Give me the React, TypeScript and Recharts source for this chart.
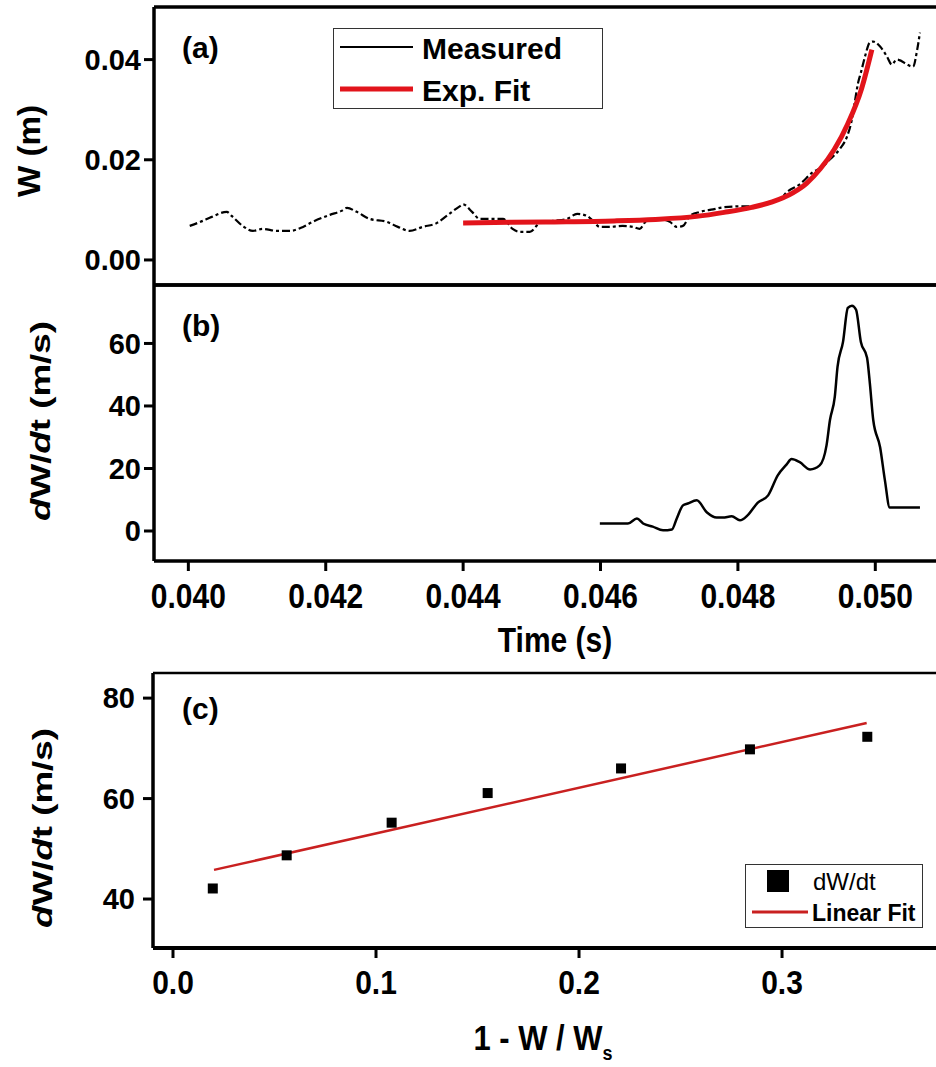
import React from "react";
import { ComposedChart, Line, Scatter, XAxis, YAxis, Legend } from "recharts";

const SANS = '"Liberation Sans", Arial, Helvetica, sans-serif';
const RED_A = "#e2141b";
const RED_C = "#c92020";

// ---- panel (a): width W(t), measured and exponential fit ----
const measuredTime = [
  0.04002, 0.04021, 0.04034, 0.04056, 0.04063, 0.04079, 0.04094, 0.04108, 0.04129, 0.04148,
  0.04167, 0.04181, 0.04206, 0.04223, 0.04231, 0.04245, 0.04264, 0.04289, 0.04305, 0.04322,
  0.04341, 0.04362, 0.04376, 0.04395, 0.044, 0.04413, 0.04424, 0.04443, 0.04458, 0.04472,
  0.04482, 0.04497, 0.04512, 0.04531, 0.04551, 0.04566, 0.0458, 0.04589, 0.04599, 0.04614,
  0.04632, 0.04647, 0.04657, 0.04667, 0.04686, 0.04701, 0.04711, 0.0472, 0.0473, 0.04745,
  0.04764, 0.04778, 0.04803, 0.04822, 0.04846, 0.04861, 0.04871, 0.0489, 0.04909, 0.04924,
  0.04934, 0.04948, 0.04959, 0.04966, 0.0497, 0.04975, 0.04979, 0.04985, 0.04992, 0.04997,
  0.05007, 0.05017, 0.05024, 0.05031, 0.05055, 0.05061, 0.05065,
];
const measuredW = [
  0.0068, 0.0078, 0.0086, 0.0096, 0.0088, 0.0068, 0.0058, 0.0062, 0.0058, 0.0058,
  0.0066, 0.0076, 0.009, 0.0098, 0.0104, 0.0096, 0.0082, 0.0076, 0.0066, 0.0058,
  0.0066, 0.0074, 0.0088, 0.0107, 0.0111, 0.0096, 0.0082, 0.0082, 0.0082, 0.0062,
  0.0056, 0.0056, 0.0074, 0.0078, 0.0082, 0.0092, 0.0088, 0.0078, 0.0066, 0.0066,
  0.0068, 0.0066, 0.0062, 0.0078, 0.0082, 0.0076, 0.0066, 0.0068, 0.0088, 0.0096,
  0.0101, 0.0105, 0.0107, 0.0107, 0.0115, 0.0121, 0.0135, 0.0151, 0.0175, 0.0187,
  0.0201, 0.0221, 0.0247, 0.0281, 0.0314, 0.0354, 0.0374, 0.0406, 0.0434, 0.0436,
  0.0426, 0.0406, 0.039, 0.04, 0.0386, 0.042, 0.0454,
];
const fitTime = [0.044, 0.0452, 0.0462, 0.0468, 0.0474, 0.0478, 0.0482, 0.0485, 0.0488, 0.049, 0.0492, 0.0494, 0.0496, 0.0498, 0.04995];
const fitW = [0.0074, 0.0076, 0.0078, 0.0081, 0.0087, 0.0095, 0.0105, 0.0116, 0.0134, 0.0153, 0.0182, 0.022, 0.0272, 0.0342, 0.042];

// ---- panel (b): dW/dt ----
const rateTime = [
  0.04599, 0.0464, 0.04653, 0.04662, 0.04676, 0.04691, 0.04704, 0.04711, 0.0472, 0.04727,
  0.0474, 0.04755, 0.04769, 0.04778, 0.04791, 0.04803, 0.04814, 0.04829, 0.04844, 0.04858,
  0.04871, 0.04878, 0.0489, 0.04905, 0.04919, 0.04929, 0.04934, 0.04941, 0.04945, 0.04953,
  0.0496, 0.04966, 0.04972, 0.04979, 0.04988, 0.04992, 0.04997, 0.05007, 0.05014, 0.05021,
  0.05065,
];
const rateValue = [
  2.4, 2.4, 4.0, 2.4, 1.4, 0.2, 0.5, 4.0, 8.2, 8.8,
  9.8, 5.9, 4.3, 4.3, 4.7, 3.4, 5.0, 9.1, 11.4, 17.8,
  21.3, 23.0, 22.0, 19.7, 21.0, 27.4, 35.5, 42.9, 52.5, 60.5,
  71.4, 72.1, 70.8, 60.5, 55.4, 47.4, 35.5, 26.8, 16.2, 7.5,
  7.5,
];

// ---- panel (c): dW/dt vs 1 - W/Ws ----
const ratioX = [0.0196, 0.056, 0.1077, 0.155, 0.2207, 0.2842, 0.342];
const ratioRate = [42.1, 48.7, 55.2, 61.1, 66.0, 69.8, 72.3];
const linearFitX = [0.0202, 0.3417];
const linearFitY = [45.8, 75.05];

// axes
const timeDomain = [0.0395, 0.051];
const timeTicks = [0.04, 0.042, 0.044, 0.046, 0.048, 0.05];
const timeMinorTicks = [0.041, 0.043, 0.045, 0.047, 0.049];
const wDomain = [-0.005, 0.0505];
const wTicks = [0, 0.02, 0.04];
const wMinorTicks = [0.01, 0.03, 0.05];
const rateDomain = [-9.6, 78.7];
const rateTicks = [0, 20, 40, 60];
const rateMinorTicks = [10, 30, 50, 70];
const ratioDomain = [-0.00985, 0.3852];
const ratioTicks = [0, 0.1, 0.2, 0.3];
const ratioMinorTicks = [0.05, 0.15, 0.25, 0.35];
const cRateDomain = [30.25, 85];
const cRateTicks = [40, 60, 80];
const cRateMinorTicks = [50, 70];

const majorLine = { stroke: "#000", strokeWidth: 3 };
const minorLine = { stroke: "#000", strokeWidth: 2 };
const frame = { stroke: "#000", strokeWidth: 3.5 };

const yTickStyle = { fill: "#000", fontSize: 29, fontWeight: "bold", fontFamily: SANS };

// bottom tick label, slightly stretched vertically like the scanned figure
function StretchTick(props: any) {
  const { x, y, payload, digits, sy } = props;
  return (
    <g transform={`translate(${x},${y}) scale(1,${sy})`}>
      <text x={0} y={0} dy="0.71em" textAnchor="middle" fill="#000" fontFamily={SANS}
        fontWeight="bold" fontSize={30}>
        {Number(payload.value).toFixed(digits)}
      </text>
    </g>
  );
}

function vTitle(x: number, y: number, length: number, body: React.ReactNode, size = 28) {
  return () => (
    <text
      x={x}
      y={y}
      transform={`rotate(-90 ${x} ${y})`}
      textAnchor="middle"
      dominantBaseline="central"
      fontFamily={SANS}
      fontWeight="bold"
      fontSize={size}
      fill="#000"
      textLength={length}
      lengthAdjust="spacingAndGlyphs"
    >
      {body}
    </text>
  );
}

const rateTitle = (
  <>
    <tspan fontStyle="italic">d</tspan>W/<tspan fontStyle="italic">d</tspan>t (m/s)
  </>
);

function LegendA() {
  return (
    <svg width={270} height={81} style={{ display: "block" }}>
      <rect x={0.5} y={0.5} width={269} height={80} fill="#fff" stroke="#333" />
      <line x1={7} x2={80} y1={19} y2={19} stroke="#000" strokeWidth={2} />
      <text x={89} y={20} dominantBaseline="central" fontFamily={SANS} fontWeight="bold" fontSize={30}>
        Measured
      </text>
      <line x1={7} x2={80} y1={61} y2={61} stroke={RED_A} strokeWidth={5} />
      <text x={89} y={62} dominantBaseline="central" fontFamily={SANS} fontWeight="bold" fontSize={30}>
        Exp. Fit
      </text>
    </svg>
  );
}

function LegendC() {
  return (
    <svg width={178} height={64} style={{ display: "block" }}>
      <rect x={0.5} y={0.5} width={177} height={63} fill="#fff" stroke="#333" />
      <rect x={22} y={6} width={22} height={22} fill="#000" />
      <text x={68} y={17} dominantBaseline="central" fontFamily={SANS} fontSize={24}>
        dW/dt
      </text>
      <line x1={7} x2={63} y1={48} y2={48} stroke={RED_C} strokeWidth={3} />
      <text x={67} y={49} dominantBaseline="central" fontFamily={SANS} fontWeight="bold" fontSize={23}>
        Linear Fit
      </text>
    </svg>
  );
}

function PanelA() {
  const measured = measuredTime.map((t, i) => ({ t, w: measuredW[i] }));
  const fit = fitTime.map((t, i) => ({ t, w: fitW[i] }));
  return (
    <ComposedChart width={1000} height={290} margin={{ top: 7, right: 56, bottom: 5, left: 0 }}>
      <YAxis yAxisId="minor" type="number" domain={wDomain} ticks={wMinorTicks} width={1} tick={false}
        tickSize={6} tickLine={minorLine} axisLine={false} interval={0} allowDataOverflow />
      <YAxis type="number" domain={wDomain} ticks={wTicks} width={153} tickSize={10} tickMargin={3}
        interval={0} allowDataOverflow tick={yTickStyle} tickLine={majorLine} axisLine={frame}
        tickFormatter={(v: number) => v.toFixed(2)}
        label={{ content: vTitle(29, 151, 92, "W (m)", 31) }} />
      <XAxis xAxisId="minorB" type="number" domain={timeDomain} ticks={timeMinorTicks} orientation="bottom"
        mirror height={1} tick={false} tickSize={6} tickLine={minorLine} axisLine={false} interval={0} allowDataOverflow />
      <XAxis dataKey="t" type="number" domain={timeDomain} ticks={timeTicks} orientation="bottom" mirror
        height={1} tick={false} tickSize={10} tickLine={majorLine} axisLine={frame} interval={0} allowDataOverflow />
      <XAxis xAxisId="top" type="number" domain={timeDomain} ticks={timeTicks} orientation="top" mirror
        height={1} tick={false} tickSize={10} tickLine={majorLine} axisLine={frame} interval={0} allowDataOverflow />
      <XAxis xAxisId="topMinor" type="number" domain={timeDomain} ticks={timeMinorTicks} orientation="top" mirror
        height={1} tick={false} tickSize={6} tickLine={minorLine} axisLine={false} interval={0} allowDataOverflow />
      <Line data={measured} dataKey="w" type="monotone" stroke="#000" strokeWidth={2.2}
        strokeDasharray="8 3 3 3" dot={false} activeDot={false} isAnimationActive={false} />
      <Line data={fit} dataKey="w" type="monotone" stroke={RED_A} strokeWidth={5}
        dot={false} activeDot={false} isAnimationActive={false} />
      <Legend content={<LegendA />} layout="vertical" align="center" verticalAlign="middle"
        wrapperStyle={{ left: 333, top: 28, width: 270, height: 81 }} />
    </ComposedChart>
  );
}

function PanelB() {
  const rate = rateTime.map((t, i) => ({ t, v: rateValue[i] }));
  return (
    <ComposedChart width={1000} height={385} margin={{ top: 5, right: 56, bottom: 0, left: 0 }}>
      <YAxis yAxisId="minor" type="number" domain={rateDomain} ticks={rateMinorTicks} width={1} tick={false}
        tickSize={6} tickLine={minorLine} axisLine={false} interval={0} allowDataOverflow />
      <YAxis type="number" domain={rateDomain} ticks={rateTicks} width={153} tickSize={10} tickMargin={3}
        interval={0} allowDataOverflow tick={yTickStyle} tickLine={majorLine} axisLine={frame}
        label={{ content: vTitle(40, 141, 200, rateTitle) }} />
      <XAxis xAxisId="minor" type="number" domain={timeDomain} ticks={timeMinorTicks} orientation="bottom"
        height={1} tick={false} tickSize={6} tickLine={minorLine} axisLine={false} interval={0} allowDataOverflow />
      <XAxis dataKey="t" type="number" domain={timeDomain} ticks={timeTicks} orientation="bottom" height={103}
        tickSize={10} tickMargin={12} tick={<StretchTick digits={3} sy={1.15} />} tickLine={majorLine}
        axisLine={frame} interval={0} allowDataOverflow
        label={{
          content: () => (
            <g transform="translate(555,360) scale(1,1.15)">
              <text x={0} y={0} textAnchor="middle" dominantBaseline="central" fontFamily={SANS}
                fontWeight="bold" fontSize={30} fill="#000">
                Time (s)
              </text>
            </g>
          ),
        }} />
      <XAxis xAxisId="top" type="number" domain={timeDomain} ticks={timeTicks} orientation="top" mirror
        height={1} tick={false} tickSize={8} tickLine={majorLine} axisLine={frame} interval={0} allowDataOverflow />
      <XAxis xAxisId="topMinor" type="number" domain={timeDomain} ticks={timeMinorTicks} orientation="top" mirror
        height={1} tick={false} tickSize={5} tickLine={minorLine} axisLine={false} interval={0} allowDataOverflow />
      <Line data={rate} dataKey="v" type="monotone" stroke="#000" strokeWidth={2.5}
        dot={false} activeDot={false} isAnimationActive={false} />
    </ComposedChart>
  );
}

function PanelC() {
  const points = ratioX.map((x, i) => ({ x, y: ratioRate[i] }));
  const fit = linearFitX.map((x, i) => ({ x, y: linearFitY[i] }));
  return (
    <ComposedChart width={1000} height={407} margin={{ top: 13, right: 45, bottom: 0, left: 0 }}>
      <YAxis yAxisId="minor" type="number" domain={cRateDomain} ticks={cRateMinorTicks} width={1} tick={false}
        tickSize={6} tickLine={minorLine} axisLine={false} interval={0} allowDataOverflow />
      <YAxis dataKey="y" type="number" domain={cRateDomain} ticks={cRateTicks} width={152} tickSize={10}
        tickMargin={8} interval={0} allowDataOverflow tick={yTickStyle}
        tickLine={majorLine} axisLine={frame}
        label={{ content: vTitle(42, 168, 200, rateTitle) }} />
      <XAxis xAxisId="minor" type="number" domain={ratioDomain} ticks={ratioMinorTicks} orientation="bottom"
        height={1} tick={false} tickSize={6} tickLine={minorLine} axisLine={false} interval={0} allowDataOverflow />
      <XAxis dataKey="x" type="number" domain={ratioDomain} ticks={ratioTicks} orientation="bottom" height={118}
        tickSize={10} tickMargin={13} tick={<StretchTick digits={1} sy={1.1} />} tickLine={majorLine}
        axisLine={{ stroke: "#000", strokeWidth: 4 }} interval={0} allowDataOverflow
        label={{
          content: () => (
            <g transform="translate(543,378) scale(1,1.15)">
              <text x={0} y={0} textAnchor="middle" dominantBaseline="central" fontFamily={SANS}
                fontWeight="bold" fontSize={31} fill="#000">
                1 - W / W
                <tspan fontSize={18} dy={13}>s</tspan>
              </text>
            </g>
          ),
        }} />
      <XAxis xAxisId="top" type="number" domain={ratioDomain} ticks={ratioTicks} orientation="top" mirror
        height={1} tick={false} tickSize={8} tickLine={minorLine} axisLine={{ stroke: "#000", strokeWidth: 2.5 }}
        interval={0} allowDataOverflow />
      <XAxis xAxisId="topMinor" type="number" domain={ratioDomain} ticks={ratioMinorTicks} orientation="top" mirror
        height={1} tick={false} tickSize={8} tickLine={minorLine} axisLine={false} interval={0} allowDataOverflow />
      <Line data={fit} dataKey="y" type="linear" stroke={RED_C} strokeWidth={2.5}
        dot={false} activeDot={false} isAnimationActive={false} />
      <Scatter data={points} dataKey="y" fill="#000" isAnimationActive={false}
        shape={(p: any) => <rect x={p.cx - 5} y={p.cy - 5} width={10} height={10} fill="#000" />} />
      <Legend content={<LegendC />} layout="vertical" align="center" verticalAlign="middle"
        wrapperStyle={{ left: 745, top: 204, width: 178, height: 64 }} />
    </ComposedChart>
  );
}

const panelTag = (top: number): React.CSSProperties => ({
  position: "absolute",
  left: 182,
  top,
  fontFamily: SANS,
  fontWeight: "bold",
  fontSize: 30,
  lineHeight: "30px",
  color: "#000",
});

export default function App() {
  return (
    <div style={{ position: "absolute", left: 0, top: 0, width: 936, height: 1067, overflow: "hidden", background: "#fff" }}>
      <div style={{ position: "absolute", left: 0, top: 0 }}>
        <PanelA />
      </div>
      <div style={{ position: "absolute", left: 0, top: 280 }}>
        <PanelB />
      </div>
      <div style={{ position: "absolute", left: 0, top: 660 }}>
        <PanelC />
      </div>
      <div style={panelTag(33)}>(a)</div>
      <div style={panelTag(311)}>(b)</div>
      <div style={panelTag(694)}>(c)</div>
    </div>
  );
}
